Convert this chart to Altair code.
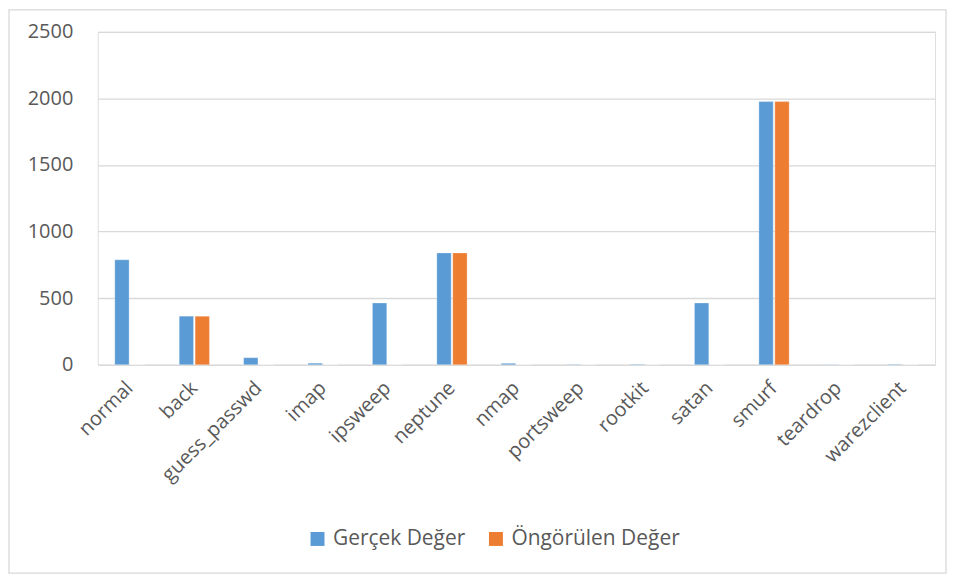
import altair as alt
import pandas as pd

categories = ["normal", "back", "guess_passwd", "imap", "ipsweep", "neptune", "nmap",
              "portsweep", "rootkit", "satan", "smurf", "teardrop", "warezclient"]
actual = [788, 365, 53, 12, 464, 840, 11, 3, 4, 464, 1976, 2, 4]
predicted = [0, 365, 0, 0, 0, 840, 0, 0, 0, 0, 1976, 0, 0]
series_names = ["Gerçek Değer", "Öngörülen Değer"]
colors = ["#5b9bd5", "#ed7d31"]

rows = []
for c, a, p in zip(categories, actual, predicted):
    rows.append({"cat": c, "series": series_names[0], "value": a})
    rows.append({"cat": c, "series": series_names[1], "value": p})
df = pd.DataFrame(rows)

W, H = 840, 334
FONT = "Open Sans"

bars = alt.Chart(df).mark_bar(stroke="white", strokeWidth=0.5, strokeOpacity=0.6).encode(
    x=alt.X("cat:N", sort=categories, title=None,
            scale=alt.Scale(paddingInner=0.53, paddingOuter=0.265),
            axis=alt.Axis(labelAngle=-45, labelAlign="right", labelBaseline="middle",
                          labelFontSize=20, labelColor="#595959",
                          labelFont=FONT, ticks=False, domain=False, labelPadding=20)),
    xOffset=alt.XOffset("series:N", sort=series_names, scale=alt.Scale(paddingInner=0.1)),
    y=alt.Y("value:Q", title=None,
            scale=alt.Scale(domain=[0, 2500]),
            axis=alt.Axis(values=[0, 500, 1000, 1500, 2000, 2500], format="d",
                          labelFontSize=20, labelColor="#595959", labelFont=FONT,
                          ticks=False, domain=False,
                          gridColor="#d9d9d9", gridWidth=1.3, labelPadding=25)),
    color=alt.Color("series:N", sort=series_names,
                    scale=alt.Scale(domain=series_names, range=colors),
                    legend=alt.Legend(title=None, orient="none", legendX=210, legendY=498,
                                      padding=0, direction="horizontal", symbolType="square",
                                      symbolSize=196, symbolStrokeWidth=0, labelLimit=0,
                                      labelFontSize=21, labelColor="#595959",
                                      labelFont=FONT, columnPadding=20, labelOffset=5)),
)

frame = alt.Chart(pd.DataFrame({"a": [0]})).mark_rect(
    fill="transparent", stroke="#d9d9d9", strokeWidth=1.3
).encode(
    x=alt.value(-89), x2=alt.value(851), y=alt.value(-22), y2=alt.value(543)
)

chart = alt.layer(frame, bars).properties(
    width=W, height=H, padding=0
).configure_view(stroke=None).configure(font=FONT)

chart.save("out.html", embed_options={"renderer": "svg", "actions": False})
